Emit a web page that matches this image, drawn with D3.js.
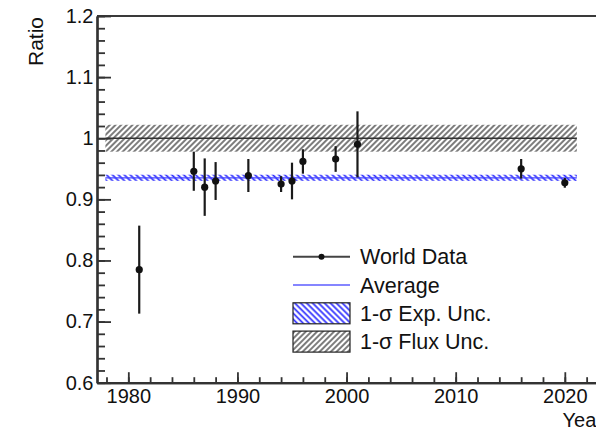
<!DOCTYPE html>
<html>
<head>
<meta charset="utf-8">
<script src="https://cdn.jsdelivr.net/npm/d3@7"></script>
<style>
  body { margin: 0; overflow: hidden; background: #fff; }
  text { font-family: "Liberation Sans", Arial, Helvetica, sans-serif; fill: #111; }
</style>
</head>
<body>
<script>
// world data: year, ratio and 1-sigma error
var years  = [1981, 1986, 1987, 1988, 1991, 1994, 1995, 1996, 1999, 2001, 2016, 2020];
var ratios = [0.785, 0.946, 0.920, 0.930, 0.939, 0.925, 0.930, 0.962, 0.966, 0.990, 0.950, 0.927];
var errors = [0.072, 0.032, 0.047, 0.031, 0.027, 0.013, 0.030, 0.020, 0.021, 0.054, 0.016, 0.008];

var average = 0.9353, expUnc = 0.005;
var fluxRef = 1.0, fluxUnc = 0.022;
var bandYears = [1977.9, 2021.1];

var xTicks = [1980, 1990, 2000, 2010, 2020];
var yTicks = [0.6, 0.7, 0.8, 0.9, 1.0, 1.1, 1.2];
var yTickLabels = ["0.6", "0.7", "0.8", "0.9", "1", "1.1", "1.2"];
var legendLabels = ["World Data", "Average", "1-\u03c3 Exp. Unc.", "1-\u03c3 Flux Unc."];

var width = 620, height = 431;
var frame = {left: 97, right: 603, top: 16, bottom: 382.7};

var svg = d3.select("body").append("svg")
    .attr("width", width)
    .attr("height", height);

var defs = svg.append("defs");
function hatch(id, color, spacing, angle, sw) {
  var p = defs.append("pattern")
      .attr("id", id)
      .attr("patternUnits", "userSpaceOnUse")
      .attr("width", spacing).attr("height", spacing)
      .attr("patternTransform", "rotate(" + angle + ")");
  p.append("rect").attr("width", spacing).attr("height", spacing).attr("fill", "#fff");
  p.append("line")
      .attr("x1", spacing / 2).attr("x2", spacing / 2)
      .attr("y1", 0).attr("y2", spacing)
      .attr("stroke", color).attr("stroke-width", sw);
}
hatch("fluxHatch", "#666", 4, 45, 1.7);
hatch("expHatch", "#2b2bff", 4.2, -45, 1.7);

var x = d3.scaleLinear().domain([1977.13, 2023.5]).range([frame.left, frame.right]);
var y = d3.scaleLinear().domain([0.6, 1.2]).range([frame.bottom, frame.top]);

// flux band
svg.append("rect")
    .attr("x", x(bandYears[0]))
    .attr("width", x(bandYears[1]) - x(bandYears[0]))
    .attr("y", y(fluxRef + fluxUnc))
    .attr("height", y(fluxRef - fluxUnc) - y(fluxRef + fluxUnc))
    .attr("fill", "url(#fluxHatch)");
svg.append("line")
    .attr("x1", x(bandYears[0])).attr("x2", x(bandYears[1]))
    .attr("y1", y(fluxRef)).attr("y2", y(fluxRef))
    .attr("stroke", "#333").attr("stroke-width", 1.6);

// average band
svg.append("rect")
    .attr("x", x(bandYears[0]))
    .attr("width", x(bandYears[1]) - x(bandYears[0]))
    .attr("y", y(average + expUnc))
    .attr("height", y(average - expUnc) - y(average + expUnc))
    .attr("fill", "url(#expHatch)");
svg.append("line")
    .attr("x1", x(bandYears[0])).attr("x2", x(bandYears[1]))
    .attr("y1", y(average)).attr("y2", y(average))
    .attr("stroke", "#4444ff").attr("stroke-width", 1.2);

// data
var pts = years.map(function(d, i) { return {year: d, r: ratios[i], e: errors[i]}; });
svg.selectAll(".err")
    .data(pts)
  .enter().append("line")
    .attr("class", "err")
    .attr("x1", function(d) { return x(d.year); })
    .attr("x2", function(d) { return x(d.year); })
    .attr("y1", function(d) { return y(d.r + d.e); })
    .attr("y2", function(d) { return y(d.r - d.e); })
    .attr("stroke", "#1a1a1a").attr("stroke-width", 2.2);
svg.selectAll(".pt")
    .data(pts)
  .enter().append("circle")
    .attr("class", "pt")
    .attr("cx", function(d) { return x(d.year); })
    .attr("cy", function(d) { return y(d.r); })
    .attr("r", 3.6)
    .attr("fill", "#111");

// frame
svg.append("path")
    .attr("d", "M" + frame.left + "," + frame.top + "H" + frame.right + "V" + frame.bottom)
    .attr("fill", "none").attr("stroke", "#3a3a3a").attr("stroke-width", 2);

// axes
var xMinor = d3.range(1978, 2024, 2);
var yMinor = d3.range(0, 31).map(function(i) { return 0.6 + i * 0.02; });

var gx = svg.append("g").attr("transform", "translate(0," + frame.bottom + ")");
gx.call(d3.axisBottom(x).tickValues(xMinor).tickSizeInner(-5.5).tickSizeOuter(0).tickFormat(""));
gx.append("g").call(d3.axisBottom(x).tickValues(xTicks).tickSizeInner(-10.5).tickSizeOuter(0)
    .tickPadding(6.4).tickFormat(d3.format("d")));

var gy = svg.append("g").attr("transform", "translate(" + frame.left + ",0)");
gy.call(d3.axisLeft(y).tickValues(yMinor).tickSizeInner(-8).tickSizeOuter(0).tickFormat(""));
gy.append("g").call(d3.axisLeft(y).tickValues(yTicks).tickSizeInner(-14).tickSizeOuter(0)
    .tickPadding(3.5).tickFormat(function(d, i) { return yTickLabels[i]; }));

svg.selectAll(".domain").attr("stroke", "#333").attr("stroke-width", 2.2);
svg.selectAll(".tick line").attr("stroke", "#333").attr("stroke-width", 1.8);
svg.selectAll(".tick text")
    .attr("font-size", 20)
    .attr("font-family", "Liberation Sans, Arial, sans-serif")
    .attr("fill", "#111");

// axis titles
svg.append("text")
    .attr("transform", "translate(43,17) rotate(-90)")
    .attr("text-anchor", "end")
    .attr("font-size", 21)
    .text("Ratio");
svg.append("text")
    .attr("x", frame.right).attr("y", 427)
    .attr("text-anchor", "end")
    .attr("font-size", 20)
    .text("Year");

// legend
var lg = svg.append("g").attr("transform", "translate(293,256.7)");
var step = 28.3;
lg.append("line").attr("x1", 0).attr("x2", 57).attr("y1", 0).attr("y2", 0)
    .attr("stroke", "#444").attr("stroke-width", 2);
lg.append("circle").attr("cx", 28.5).attr("cy", 0).attr("r", 3).attr("fill", "#111");
lg.append("line").attr("x1", 0).attr("x2", 57).attr("y1", step).attr("y2", step)
    .attr("stroke", "#5c5cff").attr("stroke-width", 1.6);
lg.append("rect").attr("x", 0).attr("y", 2 * step - 10.5).attr("width", 57).attr("height", 21)
    .attr("fill", "url(#expHatch)").attr("stroke", "#222").attr("stroke-width", 1.2);
lg.append("rect").attr("x", 0).attr("y", 3 * step - 10.5).attr("width", 57).attr("height", 21)
    .attr("fill", "url(#fluxHatch)").attr("stroke", "#222").attr("stroke-width", 1.2);
lg.selectAll(".lt")
    .data(legendLabels)
  .enter().append("text")
    .attr("class", "lt")
    .attr("x", 67)
    .attr("y", function(d, i) { return i * step; })
    .attr("dy", "0.36em")
    .attr("font-size", 21.5)
    .text(function(d) { return d; });
</script>
</body>
</html>
